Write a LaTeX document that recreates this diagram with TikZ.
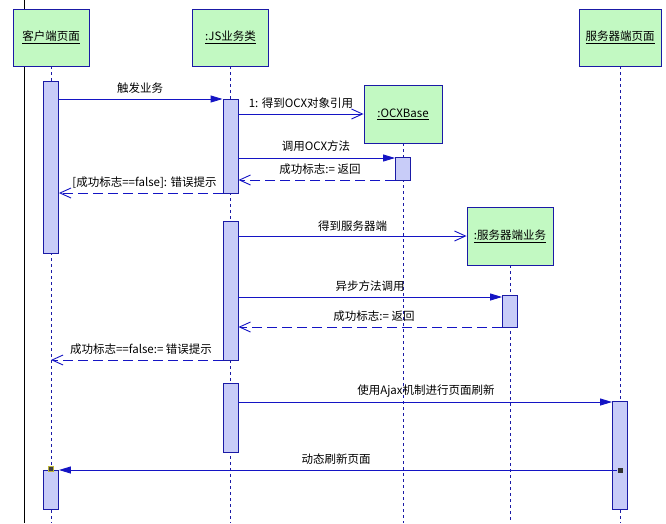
\documentclass[tikz,border=0pt]{standalone}
\usepackage{fontspec}
\setmainfont{Noto Sans CJK SC}
\usetikzlibrary{arrows.meta}
\definecolor{boxfill}{HTML}{C2F9C2}
\definecolor{boxline}{HTML}{1A1AA6}
\definecolor{actfill}{HTML}{C8CCF8}
\definecolor{msgline}{HTML}{1414C4}
\begin{document}
\begin{tikzpicture}[x=1pt,y=-1pt,
  font=\fontsize{11.5}{13.5}\selectfont,
  obj/.style={draw=boxline, fill=boxfill, line width=0.9pt, inner sep=0pt, minimum height=57pt},
  act/.style={draw=boxline, fill=actfill, line width=0.9pt, inner sep=0pt, minimum width=15pt},
  life/.style={draw=boxline, line width=0.8pt, dash pattern=on 3pt off 3pt},
  msg/.style={draw=msgline, line width=0.9pt},
  ret/.style={draw=msgline, line width=0.9pt, dash pattern=on 10pt off 5pt},
  fillarrow/.style={-{Triangle[length=12pt,width=7pt]}},
  openarrow/.style={-{Straight Barb[length=11pt,width=10pt]}},
  lab/.style={inner sep=0pt, text=black},
  sqmark/.style={fill=black!80, inner sep=0pt, minimum size=5pt}
]
\useasboundingbox (0,0) rectangle (666,523);
\fill[white] (0,0) rectangle (666,523);
\coordinate (ltop) at (24,0);
\coordinate (lbot) at (24,523);
\draw[black, line width=0.9pt] (ltop) -- (lbot);

% objects
\node[obj, minimum width=76pt] (client) at (51,37.5) {\underline{客户端页面}};
\node[obj, minimum width=76pt] (js) at (230.5,37.5) {\underline{:JS业务类}};
\node[obj, minimum width=82pt] (srvpage) at (620,37.5) {\underline{服务器端页面}};
\node[obj, minimum width=78pt, minimum height=58pt] (ocx) at (403,114) {\underline{:OCXBase}};
\node[obj, minimum width=86pt, minimum height=58pt] (srvbiz) at (510,236) {\underline{:服务器端业务}};

% lifelines
\draw[life] (client.south) -- (client.south |- 0,523);
\draw[life] (js.south) -- (js.south |- 0,523);
\draw[life] (srvpage.south) -- (srvpage.south |- 0,523);
\draw[life] (ocx.south) -- (ocx.south |- 0,523);
\draw[life] (srvbiz.south) -- (srvbiz.south |- 0,523);

% activations
\node[act, minimum height=172pt] (c1) at (51,167) {};
\node[act, minimum height=39pt] (c2) at (51,489.5) {};
\node[act, minimum height=94pt] (j1) at (230.5,146) {};
\node[act, minimum height=139pt] (j2) at (230.5,290.5) {};
\node[act, minimum height=69pt] (j3) at (230.5,417.5) {};
\node[act, minimum height=23pt] (o1) at (403,168.5) {};
\node[act, minimum height=32pt] (b1) at (510,311) {};
\node[act, minimum height=108pt] (s1) at (620,455) {};

% marks
\node[sqmark] (mk1) at (620,470) {};
\node[sqmark, fill=black!75, draw=yellow!70!black, line width=0.4pt] (mk2) at (51,469) {};

% messages
\draw[msg, fillarrow] (c1.east |- 0,99) -- (j1.west |- 0,99);
\node[lab] (l1) at (140,88) {触发业务};

\draw[msg, openarrow] (j1.east |- 0,114) -- (ocx.west |- 0,114);
\node[lab] (l2) at (301,103) {1: 得到OCX对象引用};

\draw[msg, fillarrow] (j1.east |- 0,158) -- (o1.west |- 0,158);
\node[lab] (l3) at (316,146) {调用OCX方法};

\draw[ret, openarrow] (o1.west |- 0,180) -- (j1.east |- 0,180);
\node[lab] (l4) at (320,169) {成功标志:= 返回};

\draw[ret, openarrow] (j1.west |- 0,193) -- (c1.east |- 0,193);
\node[lab] (l5) at (144.5,183) {[成功标志==false]: 错误提示};

\draw[msg, openarrow] (j2.east |- 0,236) -- (srvbiz.west |- 0,236);
\node[lab] (l6) at (352.5,226) {得到服务器端};

\draw[msg, fillarrow] (j2.east |- 0,297) -- (b1.west |- 0,297);
\node[lab] (l7) at (370,286) {异步方法调用};

\draw[ret, openarrow] (b1.west |- 0,327) -- (j2.east |- 0,327);
\node[lab] (l8) at (374,316) {成功标志:= 返回};

\draw[ret, openarrow] (j2.west |- 0,360) -- (client.south |- 0,360);
\node[lab] (l9) at (141,349) {成功标志==false:= 错误提示};

\draw[msg, fillarrow] (j3.east |- 0,402) -- (s1.west |- 0,402);
\node[lab] (l10) at (426,391) {使用Ajax机制进行页面刷新};

\draw[msg, fillarrow] (mk1.west) -- (c2.east |- 0,470);
\node[lab] (l11) at (336,459) {动态刷新页面};
\end{tikzpicture}
\end{document}
